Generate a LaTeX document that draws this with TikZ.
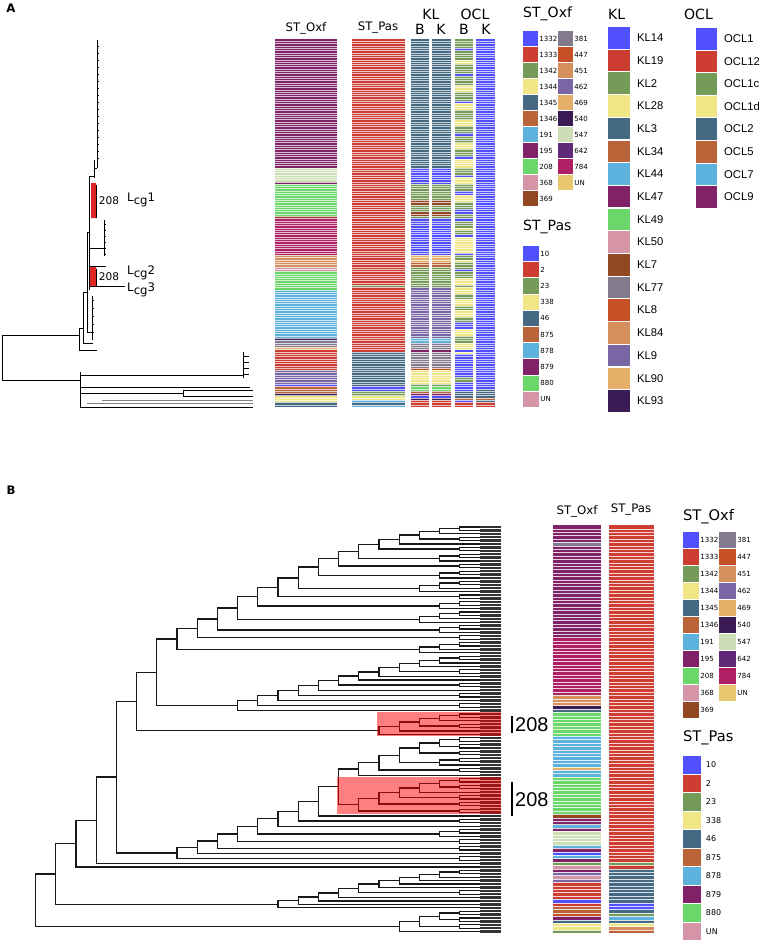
\documentclass[tikz,border=0pt]{standalone}
\usepackage{fontspec}
\setmainfont{DejaVu Sans}
\newfontfamily\arialfont{Liberation Sans}
\usetikzlibrary{calc}

% colours of the figure
\definecolor{c1}{HTML}{5050FF}
\definecolor{c2}{HTML}{CE3D32}
\definecolor{c3}{HTML}{749B58}
\definecolor{c4}{HTML}{F0E685}
\definecolor{c5}{HTML}{466983}
\definecolor{c6}{HTML}{BA6338}
\definecolor{c7}{HTML}{5DB1DD}
\definecolor{c8}{HTML}{802268}
\definecolor{c9}{HTML}{6BD76B}
\definecolor{c10}{HTML}{D595A7}
\definecolor{c11}{HTML}{924822}
\definecolor{c12}{HTML}{837B8D}
\definecolor{c13}{HTML}{C75127}
\definecolor{c14}{HTML}{D58F5C}
\definecolor{c15}{HTML}{7A65A5}
\definecolor{c16}{HTML}{E4AF69}
\definecolor{c17}{HTML}{3B1B53}
\definecolor{c18}{HTML}{CDDEB7}
\definecolor{c19}{HTML}{612A79}
\definecolor{c20}{HTML}{AE1F63}
\definecolor{c21}{HTML}{E7C76F}

% tree helpers: tips sit on a grid, a node's x follows its height
\newcount\tipc
\newcommand\mktip[1]{%
  \coordinate (#1) at (480,{527+3.4*\the\tipc});%
  \expandafter\xdef\csname hg#1\endcsname{0}%
  \global\advance\tipc by 1\relax}
\newcommand\cladealias[2]{%
  \coordinate (#1) at (#2);%
  \expandafter\xdef\csname hg#1\endcsname{\csname hg#2\endcsname}}
\newcommand\joinclade[3]{%
  \pgfmathtruncatemacro\jh{max(\csname hg#2\endcsname,\csname hg#3\endcsname)+1}%
  \expandafter\xdef\csname hg#1\endcsname{\jh}%
  \pgfmathsetmacro\jx{480-20.2*\jh}%
  \coordinate (#1-m) at ($(#2)!.5!(#3)$);%
  \coordinate (#1) at (\jx,0 |- #1-m);%
  \draw (#1) |- (#2) (#1) |- (#3);}
\newcommand\cat[2]{%
  \mktip{#1-t1}%
  \cladealias{#1}{#1-t1}%
  \ifnum#2>1\relax
    \foreach \j in {2,...,#2}{%
      \mktip{#1-t\j}%
      \joinclade{#1-n\j}{#1}{#1-t\j}%
      \cladealias{#1}{#1-n\j}}%
  \fi}
\newcommand\rungs[3]{%
  \cladealias{#1}{#2}%
  \foreach \s [count=\k] in {#3}{%
    \cat{#1g\k}{\s}%
    \joinclade{#1r\k}{#1}{#1g\k}%
    \cladealias{#1}{#1r\k}}}

% one striped colour column
\newcommand\heatcol[6]{%
  \foreach \cl/\ya/\yb in {#6}
    \fill[\cl] (#1,{#3+#4*\ya}) rectangle (#2,{#3+#4*(\yb+1)});
  \foreach \r in {1,...,#5}
    \draw[stripe] (#1,{#3+#4*\r}) -- (#2,{#3+#4*\r});}

\begin{document}
\begin{tikzpicture}[x=0.03cm,y=-0.03cm,
  tree/.style={line width=1.1pt,black!90},
  thin tree/.style={line width=0.45pt},
  stripe/.style={white,line width=.3pt,opacity=.8},
  hdr/.style={font=\fontsize{10}{12}\selectfont},
  big/.style={font=\fontsize{12}{14}\selectfont},
  tiny/.style={font=\fontsize{6}{7}\selectfont,anchor=west,inner sep=0.6pt},
  small/.style={font=\fontsize{6.8}{8}\selectfont,anchor=west,inner sep=0.6pt},
  kl/.style={font=\arialfont\fontsize{9.6}{11}\selectfont,anchor=west,inner sep=0pt},
  lcg/.style={font=\fontsize{10}{12}\selectfont,anchor=west,inner sep=0pt},
  panel/.style={font=\bfseries\fontsize{10}{12}\selectfont}]
\useasboundingbox (0,0) rectangle (762,941);

% 1) Panel A: tree
\node[panel] (labA) at (11,8) {A};
\begin{scope}[thin tree]
  \draw (2,335) -- (2,380);
  \draw (2,335) -- (79,335);
  \draw (79,328) -- (79,350) -- (97,350);
  \draw (79,328) -- (83,328) (83,292) -- (83,343) -- (93,343);
  \draw (83,292) -- (87,292) (87,232) -- (87,332) -- (92,332);
  \draw (87,232) -- (89,232) (89,176) -- (89,290);
  \draw (89,176) -- (94,176) (94,160) -- (94,178) (94,168) -- (97,168) (97,40) -- (97,168);
  \foreach \y in {46,53,...,160} \draw (97,\y) -- (98.5,\y);
  \draw (89,248) -- (104,248) (104,220) -- (104,256);
  \foreach \y in {224,230,...,254} \draw (104,\y) -- (105.5,\y);
  \draw (89,266) -- (106,266);
  \draw (89,286) -- (125,286);
  \draw (92,296) -- (92,340);
  \foreach \y in {300,308,...,338} \draw (92,\y) -- (94,\y);
  % outgroup
  \draw (2,380) -- (80,380) (80,372) -- (80,407);
  \draw (80,375) -- (243,375) (243,352) -- (243,378);
  \foreach \y in {356,362,...,374} \draw (243,\y) -- (249,\y);
  \draw (80,387) -- (250,387);
  \draw (80,393) -- (183,393) (183,390) -- (183,396) (183,390) -- (253,390) (183,396) -- (253,396);
  \draw[gray,line width=1pt] (102,400.5) -- (253,400.5) (87,403.5) -- (253,403.5);
  \draw (80,407) -- (253,407);
\end{scope}
\fill[red!85!black,opacity=.85] (91,183) rectangle (96,218) (90,267) rectangle (96,286);
\draw[line width=.8pt] (96.8,185) -- (96.8,218) (96.8,269) -- (96.8,286);
\node[font=\fontsize{9}{10}\selectfont,anchor=west,inner sep=1pt] (cA1) at (97.5,201) {208};
\node[font=\fontsize{9}{10}\selectfont,anchor=west,inner sep=1pt] (cA2) at (97.5,277) {208};
\node[lcg] (lcg1) at (127,200) {L\raisebox{-.45ex}{cg}1};
\node[lcg] (lcg2) at (127,273) {L\raisebox{-.45ex}{cg}2};
\node[lcg] (lcg3) at (127,290) {L\raisebox{-.45ex}{cg}3};

% 2) Panel A: colour columns
\begin{scope}[stripe/.style={white,line width=.18pt,opacity=.7}]
\heatcol{275}{337}{39}{2.3}{159}{c8/0/55,c18/56/61,c8/62/62,c9/63/76,c11/77/77,c20/78/93,c14/94/98,c10/99/100,c9/101/108,c7/109/129,c17/130/130,c12/131/133,c16/134/134,c2/135/143,c15/144/149,c1/150/150,c6/151/153,c17/154/154,c4/155/157,c5/158/159}
\heatcol{352}{405}{39}{2.3}{159}{c2/0/106,c3/107/107,c2/108/135,c5/136/150,c1/151/152,c3/153/154,c4/155/156,c7/157/157,c5/158/158,c7/159/159}
\foreach \xa/\xb in {411/429,432/451}
  \heatcol{\xa}{\xb}{39}{2.3}{159}{c5/0/55,c1/56/62,c3/63/69,c11/70/71,c3/72/74,c11/75/76,c3/77/77,c1/78/93,c16/94/96,c6/97/98,c3/99/107,c15/108/129,c7/130/131,c12/132/134,c8/135/135,c12/136/142,c13/143/143,c4/144/149,c3/150/150,c9/151/152,c6/153/153,c8/154/154,c1/155/155,c17/156/156,c2/157/159};
\heatcol{455}{473}{39}{2.3}{159}{c3/0/3,c1/4/4,c3/5/8,c4/9/10,c3/11/14,c1/15/15,c3/16/19,c4/20/22,c3/23/26,c1/27/27,c4/28/30,c3/31/34,c4/35/37,c3/38/40,c1/41/41,c3/42/44,c4/45/47,c3/48/50,c1/51/51,c4/52/55,c3/56/58,c1/59/59,c4/60/62,c3/63/65,c1/66/67,c4/68/70,c3/71/73,c1/74/75,c3/76/77,c1/78/78,c3/79/81,c4/82/82,c3/83/84,c1/85/85,c4/86/92,c1/93/93,c3/94/95,c4/96/96,c3/97/99,c1/100/100,c3/101/103,c4/104/106,c3/107/107,c4/108/110,c3/111/112,c4/113/115,c3/116/117,c4/118/120,c3/121/122,c1/123/125,c4/126/128,c3/129/131,c4/132/134,c1/135/135,c4/136/136,c1/137/146,c3/147/148,c1/149/152,c5/153/155,c6/156/156,c1/157/157,c2/158/159}
\heatcol{476}{495}{39}{2.3}{159}{c1/0/151,c5/152/155,c6/156/156,c5/157/157,c2/158/159}
\end{scope}
\node[hdr] (hA1) at (306,28) {ST\_Oxf};
\node[hdr] (hA2) at (378,28) {ST\_Pas};
\node[big] (hA3) at (431,14) {KL};
\node[big] (hA4) at (475,14) {OCL};
\node[big] (hA5) at (420,29) {B};
\node[big] (hA6) at (441,29) {K};
\node[big] (hA7) at (464,29) {B};
\node[big] (hA8) at (486,29) {K};

% 3) Panel A: legends
\node[big,anchor=west] (oxA) at (519,14) {ST\_Oxf};
\foreach \cl/\lab [count=\i from 0] in {c1/1332,c2/1333,c3/1342,c4/1344,c5/1345,c6/1346,c7/191,c8/195,c9/208,c10/368,c11/369}{
  \fill[\cl] (523,{31+16*\i}) rectangle (538,{46+16*\i});
  \node[tiny] (oxa\i) at (538.5,{38.5+16*\i}) {\lab};}
\foreach \cl/\lab [count=\i from 0] in {c12/381,c13/447,c14/451,c15/462,c16/469,c17/540,c18/547,c19/642,c20/784,c21/UN}{
  \fill[\cl] (558,{31+16*\i}) rectangle (573,{46+16*\i});
  \node[tiny] (oxb\i) at (573.5,{38.5+16*\i}) {\lab};}
\node[big,anchor=west] (paA) at (519,227) {ST\_Pas};
\foreach \cl/\lab [count=\i from 0] in {c1/10,c2/2,c3/23,c4/338,c5/46,c6/875,c7/878,c8/879,c9/880,c10/UN}{
  \fill[\cl] (523,{246+16.2*\i}) rectangle (539,{261.2+16.2*\i});
  \node[tiny] (paa\i) at (539.5,{253.6+16.2*\i}) {\lab};}
\node[big,anchor=west] (klA) at (604,14) {KL};
\foreach \cl/\lab [count=\i from 0] in {c1/KL14,c2/KL19,c3/KL2,c4/KL28,c5/KL3,c6/KL34,c7/KL44,c8/KL47,c9/KL49,c10/KL50,c11/KL7,c12/KL77,c13/KL8,c14/KL84,c15/KL9,c16/KL90,c17/KL93}{
  \fill[\cl] (608,{27+22.7*\i}) rectangle (630,{48.5+22.7*\i});
  \node[kl] (kla\i) at (637,{37.7+22.7*\i}) {\lab};}
\node[big,anchor=west] (ocA) at (680,14) {OCL};
\foreach \cl/\lab [count=\i from 0] in {c1/OCL1,c2/OCL12,c3/OCL1c,c4/OCL1d,c5/OCL2,c6/OCL5,c7/OCL7,c8/OCL9}{
  \fill[\cl] (696,{28+22.6*\i}) rectangle (717,{49.5+22.6*\i});
  \node[kl] (oca\i) at (724,{38.7+22.6*\i}) {\lab};}

% 4) Panel B: colour columns
\heatcol{553}{601}{525.3}{3.4}{119}{c8/0/4,c12/5/5,c8/6/32,c20/33/49,c14/50/52,c17/53/53,c5/54/54,c9/55/61,c7/62/70,c16/71/71,c7/72/73,c9/74/84,c11/85/85,c8/86/87,c7/88/88,c8/89/89,c18/90/93,c7/94/94,c8/95/95,c1/96/96,c7/97/97,c8/98/98,c3/99/99,c10/100/100,c8/101/101,c15/102/102,c10/103/103,c15/104/104,c2/105/109,c1/110/110,c2/111/111,c6/112/113,c13/114/114,c8/115/115,c5/116/116,c4/117/118,c3/119/119}
\heatcol{609}{654}{525.3}{3.4}{119}{c2/0/98,c3/99/99,c2/100/100,c5/101/110,c1/111/112,c5/113/113,c3/114/114,c7/115/115,c5/116/116,c4/117/117,c14/118/118,c6/119/119}
\node[hdr] (hB1) at (577,511) {ST\_Oxf};
\node[hdr] (hB2) at (631,510) {ST\_Pas};

% 5) Panel B: tree, clades from top to bottom
\node[panel] (labB) at (11,490) {B};
\begin{scope}[tree]
  \cat{Ttop}{1}\rungs{T}{Ttop}{1,1,2,1,2,3,2,3,4,2,3,4,3,2,4}
  \cat{Vtop}{1}\rungs{V}{Vtop}{1,1,1,2,1,1,2,1,2,1,2,1}
  \cat{Atop}{1}\rungs{Ra}{Atop}{1,1,2,1,1}
  \cat{Utop}{1}\rungs{U}{Utop}{1,2,2,3,2,1}
  \cat{Btop}{1}\rungs{Rb}{Btop}{1,2,1,2,2,2}
  \joinclade{S}{U}{Rb}
  \rungs{L}{S}{1,2,1,3,2,2,1,2}
  \cat{Pa}{1}
  \cat{Pb}{1}
  \cat{Ktop}{1}\rungs{K}{Ktop}{1,1,1,1,1,2,1,1,1,1}
  \cat{Btm}{1}\rungs{Q}{Btm}{1,2,2,1}
  % backbone
  \joinclade{N6}{T}{V}
  \joinclade{N5}{N6}{Ra}
  \joinclade{N4}{N5}{L}
  \joinclade{N3}{N4}{Pa}
  \joinclade{N2}{N3}{Pb}
  \joinclade{N1}{N2}{K}
  \joinclade{N0}{N1}{Q}
\end{scope}
\foreach \i in {0,...,119}
  \draw[line width=2.1pt,black!80] (480,{527+3.4*\i}) -- (501,{527+3.4*\i});
\fill[red,opacity=.5] (377,712.3) rectangle (501,736.1);
\fill[red,opacity=.5] (336.6,776.9) rectangle (501,814.3);
\draw[line width=1pt] (512,716) -- (512,733) (512,782) -- (512,816);
\node[font=\arialfont\fontsize{17}{19}\selectfont,anchor=west,inner sep=0pt] (cB1) at (515,725) {208};
\node[font=\arialfont\fontsize{17}{19}\selectfont,anchor=west,inner sep=0pt] (cB2) at (515,800) {208};

% 6) Panel B: legends
\node[font=\fontsize{12.5}{14}\selectfont,anchor=west] (oxB) at (679,517) {ST\_Oxf};
\foreach \cl/\lab [count=\i from 0] in {c1/1332,c2/1333,c3/1342,c4/1344,c5/1345,c6/1346,c7/191,c8/195,c9/208,c10/368,c11/369}{
  \fill[\cl] (683,{532+17*\i}) rectangle (699,{548+17*\i});
  \node[tiny] (oxc\i) at (699.5,{540+17*\i}) {\lab};}
\foreach \cl/\lab [count=\i from 0] in {c12/381,c13/447,c14/451,c15/462,c16/469,c17/540,c18/547,c19/642,c20/784,c21/UN}{
  \fill[\cl] (719,{532+17*\i}) rectangle (736,{548+17*\i});
  \node[tiny] (oxd\i) at (736.5,{540+17*\i}) {\lab};}
\node[font=\fontsize{12.5}{14}\selectfont,anchor=west] (paB) at (679,738) {ST\_Pas};
\foreach \cl/\lab [count=\i from 0] in {c1/10,c2/2,c3/23,c4/338,c5/46,c6/875,c7/878,c8/879,c9/880,c10/UN}{
  \fill[\cl] (683,{756+18.5*\i}) rectangle (701,{773.5+18.5*\i});
  \node[small] (pab\i) at (705,{764.75+18.5*\i}) {\lab};}
\end{tikzpicture}
\end{document}
